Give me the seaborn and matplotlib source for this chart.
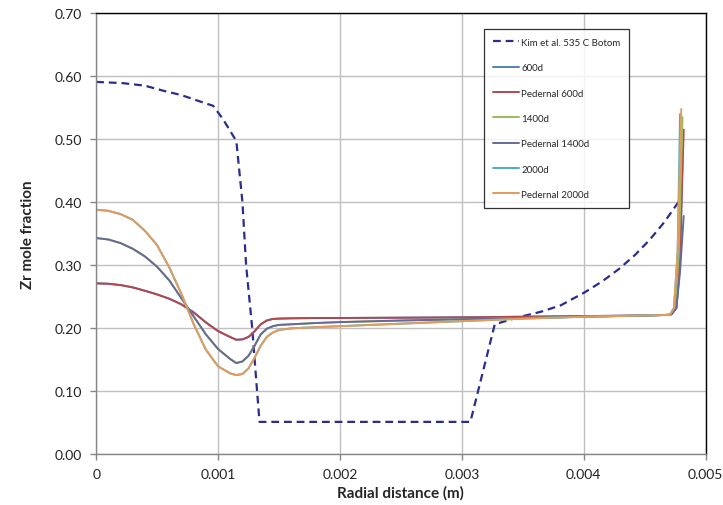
import matplotlib
matplotlib.use("Agg")
import matplotlib.pyplot as plt
import seaborn as sns

# Kim et al. 535 C bottom (measured)
kim_x = [0, 0.00022, 0.00040, 0.00055, 0.00070, 0.00082, 0.00096, 0.00104, 0.00115,
         0.00120, 0.00123, 0.00128, 0.00132, 0.00134, 0.00307, 0.00327, 0.00346,
         0.00365, 0.00381, 0.00401, 0.00415, 0.00429, 0.00442, 0.00454, 0.00466, 0.00478]
kim_y = [0.591, 0.589, 0.585, 0.577, 0.570, 0.562, 0.553, 0.532, 0.497,
         0.40, 0.30, 0.20, 0.10, 0.051, 0.051, 0.206, 0.217,
         0.226, 0.236, 0.257, 0.274, 0.294, 0.316, 0.340, 0.368, 0.401]

# shared radial positions for the model curves (body, before the edge spike)
body_x = [0, 0.0001, 0.0002, 0.0003, 0.0004, 0.0005, 0.0006, 0.0007, 0.0008, 0.0009,
          0.0010, 0.0011, 0.00115, 0.0012, 0.00125, 0.0013, 0.00135, 0.0014, 0.00145,
          0.0015, 0.0016, 0.0018, 0.0020, 0.0025, 0.0030, 0.0035, 0.0040, 0.0045, 0.0047]

body_600 = [0.271, 0.2704, 0.2683, 0.2646, 0.2593, 0.2534, 0.2466, 0.2376, 0.2249, 0.209,
            0.1952, 0.1857, 0.1815, 0.182, 0.186, 0.195, 0.206, 0.212, 0.2145,
            0.215, 0.2155, 0.216, 0.216, 0.2165, 0.217, 0.218, 0.219, 0.220, 0.221]
body_1400 = [0.343, 0.3407, 0.335, 0.326, 0.3138, 0.2974, 0.2757, 0.2471, 0.2185, 0.190,
             0.1667, 0.1508, 0.1444, 0.147, 0.156, 0.172, 0.190, 0.199, 0.203,
             0.205, 0.206, 0.208, 0.2095, 0.212, 0.214, 0.216, 0.218, 0.220, 0.221]
body_2000 = [0.388, 0.3862, 0.381, 0.372, 0.3545, 0.3317, 0.2963, 0.254, 0.2063, 0.1656,
             0.1392, 0.128, 0.1254, 0.127, 0.136, 0.153, 0.172, 0.186, 0.193,
             0.197, 0.1995, 0.2015, 0.203, 0.207, 0.211, 0.215, 0.218, 0.220, 0.221]

# fuel-edge spike for each series
spike_x = {
    "600d": [0.00472, 0.00476, 0.00479, 0.00481],
    "Pedernal 600d": [0.00472, 0.00476, 0.00479, 0.00482],
    "1400d": [0.00471, 0.00475, 0.00478, 0.00481],
    "Pedernal 1400d": [0.00472, 0.00476, 0.00479, 0.00482],
    "2000d": [0.00471, 0.00474, 0.00477, 0.00479],
    "Pedernal 2000d": [0.00471, 0.00474, 0.00477, 0.00480],
}
spike_y = {
    "600d": [0.222, 0.232, 0.300, 0.468],
    "Pedernal 600d": [0.222, 0.232, 0.320, 0.515],
    "1400d": [0.222, 0.232, 0.320, 0.535],
    "Pedernal 1400d": [0.222, 0.232, 0.290, 0.378],
    "2000d": [0.222, 0.232, 0.320, 0.540],
    "Pedernal 2000d": [0.222, 0.232, 0.320, 0.548],
}

series = [("600d", body_600, "#4F81BD"),
          ("Pedernal 600d", body_600, "#B5474E"),
          ("1400d", body_1400, "#9BBB59"),
          ("Pedernal 1400d", body_1400, "#66699A"),
          ("2000d", body_2000, "#4BACC6"),
          ("Pedernal 2000d", body_2000, "#E39C5A")]

x_ticks = [0, 0.001, 0.002, 0.003, 0.004, 0.005]
x_tick_labels = ["0", "0.001", "0.002", "0.003", "0.004", "0.005"]
y_ticks = [0.0, 0.1, 0.2, 0.3, 0.4, 0.5, 0.6, 0.7]

sns.set_style("white")
plt.rcParams['font.family'] = ['Lato', 'DejaVu Sans']

fig = plt.figure(figsize=(7.23, 5.06), dpi=100)
ax = fig.add_axes([0.133, 0.1008, 0.843, 0.871])

sns.lineplot(x=kim_x, y=kim_y, ax=ax, color="#2B2D8C", lw=1.6, linestyle=(0, (3.5, 2.2)),
             label="Kim et al. 535 C Botom", estimator=None, sort=False)
for name, body, col in series:
    sns.lineplot(x=body_x + spike_x[name], y=body + spike_y[name], ax=ax, color=col, lw=1.4,
                 label=name, estimator=None, sort=False)

ax.set_xlim(0, 0.005)
ax.set_ylim(0, 0.7)
ax.set_xticks(x_ticks)
ax.set_xticklabels(x_tick_labels)
ax.set_yticks(y_ticks)
ax.set_yticklabels([f"{v:.2f}" for v in y_ticks])
ax.tick_params(labelsize=10, length=4, width=1, direction="out",
               left=True, bottom=True, pad=6, colors="#868686", labelcolor="#222222")
ax.grid(True, color="#BFBFBF", lw=1)
ax.set_axisbelow(True)
for side in ["left", "bottom"]:
    ax.spines[side].set_color("#868686")
for side in ["top", "right"]:
    ax.spines[side].set_color("black")
for s in ax.spines.values():
    s.set_linewidth(1)

ax.set_xlabel("Radial distance (m)", fontsize=11, fontweight="bold", labelpad=4)
ax.set_ylabel("Zr mole fraction", fontsize=11, fontweight="bold", labelpad=14)

leg = ax.legend(loc="upper left", bbox_to_anchor=(0.637, 0.964), borderaxespad=0,
                fontsize=7, labelspacing=1.68, handlelength=2.7, handletextpad=0.2,
                borderpad=0.9, frameon=True, fancybox=False, shadow=False)
leg.get_frame().set_edgecolor("black")
leg.get_frame().set_linewidth(0.9)

plt.savefig("out.png", dpi=100)
plt.close("all")
